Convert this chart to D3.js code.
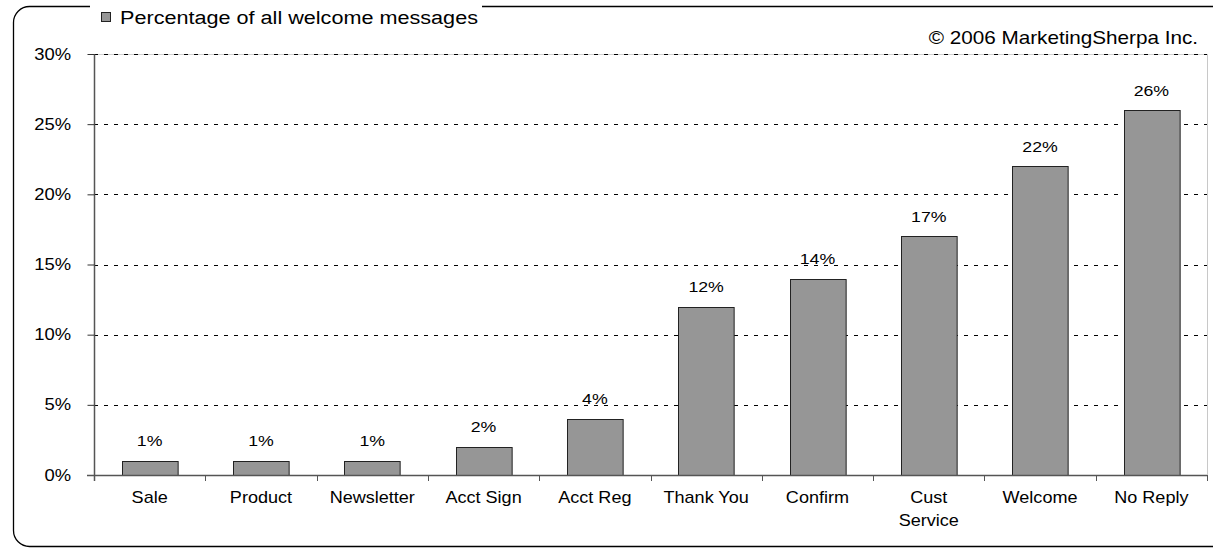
<!DOCTYPE html>
<html><head><meta charset="utf-8">
<script src="https://cdn.jsdelivr.net/npm/d3@7"></script>
<style>html,body{margin:0;padding:0;background:#fff;}svg{display:block;font-family:"Liberation Sans",Arial,sans-serif;}</style>
</head><body>
<svg id="c" width="1213" height="548"></svg>
<script>
const categories = ["Sale","Product","Newsletter","Acct Sign","Acct Reg","Thank You","Confirm","Cust\nService","Welcome","No Reply"];
const values = [1,1,1,2,4,12,14,17,22,26];
const yTicks = [0,5,10,15,20,25,30];
const seriesName = "Percentage of all welcome messages";
const credit = "© 2006 MarketingSherpa Inc.";

const SX = 1.15; // horizontal stretch of the reference's text
const svg = d3.select("#c");
const m = {left:94, right:1207, top:54, bottom:475};

function stext(g, x, y, size, anchor, str){
  return g.append("text").attr("transform",`translate(${x},${y}) scale(${SX},1)`)
    .attr("text-anchor",anchor).attr("font-size",size).attr("fill","#000").text(str);
}

// frame
svg.append("rect").attr("x",13.5).attr("y",6.5).attr("width",1230).attr("height",540)
  .attr("rx",16).attr("fill","none").attr("stroke","#000").attr("stroke-width",1.3);

const x = d3.scaleBand().domain(categories).range([m.left,m.right]).paddingInner(0.5).paddingOuter(0.25);
const y = d3.scaleLinear().domain([0,30]).range([m.bottom,m.top]);

// plot area border (light)
svg.append("line").attr("x1",m.right+0.5).attr("x2",m.right+0.5).attr("y1",m.top).attr("y2",m.bottom).attr("stroke","#c8c8c8");
svg.append("line").attr("x1",m.left).attr("x2",m.right).attr("y1",m.top+0.5).attr("y2",m.top+0.5).attr("stroke","#d0d0d0");

// gridlines
svg.append("g").selectAll("line").data(yTicks.filter(d=>d>0)).join("line")
  .attr("x1",m.left).attr("x2",m.right)
  .attr("y1",d=>Math.round(y(d))+0.5).attr("y2",d=>Math.round(y(d))+0.5)
  .attr("stroke","#000").attr("stroke-width",1).attr("stroke-dasharray","4,6");

// bars
svg.append("g").selectAll("rect").data(values).join("rect")
  .attr("x",(d,i)=>Math.round(x(categories[i]))+0.5)
  .attr("y",d=>Math.round(y(d))+0.5)
  .attr("width",x.bandwidth())
  .attr("height",d=>Math.round(y(0))-Math.round(y(d)))
  .attr("fill","#969696").attr("stroke","#222").attr("stroke-width",1);

// value labels
const vg = svg.append("g");
values.forEach((d,i)=>stext(vg, x(categories[i])+x.bandwidth()/2, y(d)-14.5, 15.4, "middle", d+"%"));

// y axis
const yAxis = d3.axisLeft(y).tickValues(yTicks).tickFormat("").tickSize(7);
const gy = svg.append("g").attr("transform",`translate(${m.left+0.5},0)`).call(yAxis);
gy.select(".domain").attr("stroke","#555").attr("stroke-width",1.5).attr("d",`M0,${m.top}V${m.bottom+6}`);
gy.selectAll(".tick line").attr("stroke","#333");
const yl = svg.append("g");
yTicks.forEach(t=>stext(yl, 71, y(t)+5.5, 16, "end", t+"%"));

// x axis
const bounds = d3.range(categories.length+1).map(i=>m.left + i*(m.right-m.left)/categories.length);
svg.append("line").attr("x1",m.left-7).attr("x2",m.right).attr("y1",m.bottom+0.5).attr("y2",m.bottom+0.5).attr("stroke","#555").attr("stroke-width",1.5);
svg.append("g").selectAll("line").data(bounds).join("line")
  .attr("x1",d=>Math.round(d)+0.5).attr("x2",d=>Math.round(d)+0.5)
  .attr("y1",m.bottom).attr("y2",m.bottom+6).attr("stroke","#555");
const xg = svg.append("g");
categories.forEach(c=>{
  c.split("\n").forEach((s,i)=>stext(xg, x(c)+x.bandwidth()/2, m.bottom+28+i*23, 15.7, "middle", s));
});

// legend (white box hides the frame line behind it)
svg.append("rect").attr("x",90).attr("y",0).attr("width",392).attr("height",30).attr("fill","#fff");
svg.append("rect").attr("x",101.5).attr("y",12.5).attr("width",9).attr("height",9).attr("fill","#969696").attr("stroke","#222");
stext(svg, 120, 23.5, 18.8, "start", seriesName);
// credit
stext(svg, 1198, 44, 18, "end", credit);
</script>
</body></html>
